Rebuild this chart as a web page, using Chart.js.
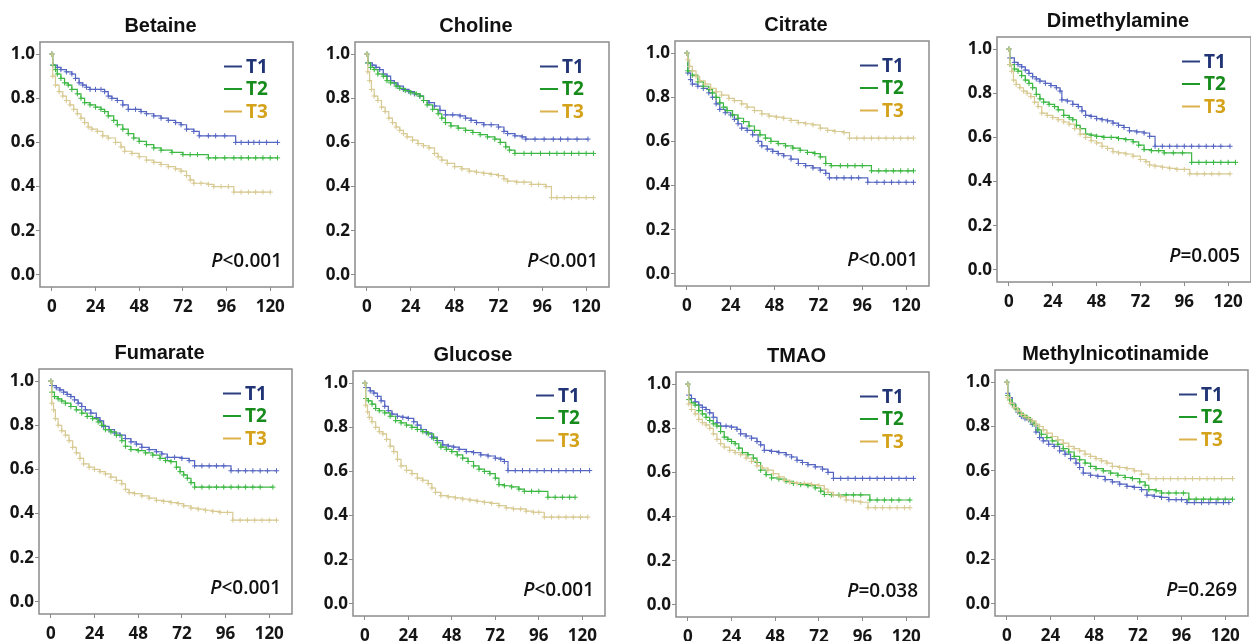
<!DOCTYPE html>
<html>
<head>
<meta charset="utf-8">
<script src="https://cdn.jsdelivr.net/npm/chart.js@4.4.1/dist/chart.umd.min.js"></script>
<style>
  body { margin: 0; background: #fff; width: 1251px; height: 641px; position: relative; overflow: hidden; }
  canvas { position: absolute; }
</style>
</head>
<body>
<script>
// months of follow-up and survival probability
const monthTicks = [0, 24, 48, 72, 96, 120]
const survivalTicks = [0, 0.2, 0.4, 0.6, 0.8, 1.0]
const groups = ['T1', 'T2', 'T3']
const metabolites = ['Betaine', 'Choline', 'Citrate', 'Dimethylamine', 'Fumarate', 'Glucose', 'TMAO', 'Methylnicotinamide']
const pValues = ['<0.001', '<0.001', '<0.001', '=0.005', '<0.001', '<0.001', '=0.038', '=0.269']

const betaineT1 = [[0,1],[0.5,0.95],[3,0.94],[5,0.93],[8,0.92],[11,0.91],[13,0.89],[15,0.87],[17,0.86],[19,0.85],[21,0.84],[24,0.84],[27,0.84],[29,0.83],[31,0.81],[33,0.80],[36,0.79],[39,0.77],[42,0.75],[46,0.75],[49,0.74],[52,0.73],[56,0.72],[60,0.71],[64,0.70],[68,0.69],[71,0.68],[74,0.66],[78,0.65],[81,0.63],[86,0.63],[90,0.63],[95,0.63],[101,0.60],[104,0.60],[108,0.60],[111,0.60],[114,0.60],[118,0.60],[124,0.60]]
const betaineT2 = [[0,1],[0.5,0.95],[2,0.93],[3,0.91],[5,0.89],[7,0.87],[9,0.86],[11,0.84],[14,0.82],[16,0.80],[18,0.78],[21,0.77],[24,0.76],[27,0.75],[29,0.74],[31,0.72],[34,0.70],[36,0.68],[39,0.66],[42,0.64],[45,0.62],[48,0.605],[52,0.59],[56,0.575],[60,0.565],[66,0.555],[72,0.545],[76,0.545],[80,0.545],[86,0.53],[90,0.53],[95,0.53],[100,0.53],[104,0.53],[108,0.53],[112,0.53],[116,0.53],[120,0.53],[124,0.53]]
const betaineT3 = [[0,1],[0.5,0.90],[2,0.86],[4,0.83],[6,0.81],[8,0.79],[10,0.77],[12,0.75],[14,0.73],[16,0.71],[18,0.69],[20,0.67],[22,0.66],[25,0.65],[28,0.63],[31,0.62],[35,0.60],[38,0.58],[40,0.56],[44,0.55],[48,0.535],[52,0.52],[56,0.51],[60,0.50],[64,0.49],[68,0.48],[71,0.47],[74,0.45],[76,0.43],[78,0.415],[82,0.415],[86,0.41],[89,0.40],[93,0.40],[97,0.40],[100,0.375],[104,0.375],[108,0.375],[112,0.375],[116,0.375],[120,0.375]]

const cholineT1 = [[0,1],[0.5,0.96],[3,0.95],[5,0.94],[7,0.93],[9,0.91],[11,0.90],[13,0.88],[15,0.87],[17,0.855],[20,0.84],[23,0.83],[26,0.82],[29,0.81],[31,0.79],[34,0.78],[37,0.765],[40,0.745],[43,0.725],[47,0.725],[51,0.72],[54,0.71],[57,0.70],[60,0.69],[64,0.68],[68,0.68],[72,0.67],[75,0.65],[77,0.64],[81,0.63],[85,0.625],[87,0.615],[92,0.615],[97,0.615],[102,0.615],[106,0.615],[110,0.615],[115,0.615],[121,0.615]]
const cholineT2 = [[0,1],[0.5,0.96],[2,0.94],[4,0.93],[6,0.91],[9,0.90],[11,0.88],[13,0.87],[16,0.855],[18,0.845],[21,0.835],[24,0.825],[27,0.82],[29,0.81],[31,0.79],[33,0.77],[36,0.75],[39,0.73],[41,0.71],[43,0.69],[46,0.675],[50,0.665],[54,0.655],[58,0.645],[62,0.635],[66,0.625],[70,0.615],[73,0.60],[76,0.58],[78,0.565],[81,0.55],[86,0.55],[90,0.55],[95,0.55],[100,0.55],[104,0.55],[108,0.55],[112,0.55],[116,0.55],[120,0.55],[124,0.55]]
const cholineT3 = [[0,1],[0.5,0.92],[1.5,0.88],[2.5,0.84],[4,0.81],[6,0.79],[8,0.76],[10,0.74],[12,0.71],[14,0.69],[16,0.67],[18,0.655],[20,0.64],[22,0.625],[25,0.61],[28,0.595],[31,0.585],[34,0.575],[37,0.55],[39,0.535],[41,0.52],[44,0.505],[48,0.49],[52,0.48],[56,0.47],[60,0.465],[64,0.46],[68,0.455],[72,0.45],[75,0.435],[77,0.425],[82,0.42],[86,0.42],[90,0.41],[94,0.41],[98,0.40],[101,0.35],[104,0.35],[108,0.35],[112,0.35],[116,0.35],[120,0.35],[124,0.35]]

const citrateT1 = [[0,1],[0.5,0.91],[2,0.88],[3,0.86],[6,0.85],[9,0.84],[12,0.82],[14,0.80],[16,0.77],[18,0.745],[21,0.73],[24,0.72],[26,0.70],[28,0.68],[30,0.66],[33,0.65],[36,0.63],[39,0.60],[41,0.58],[44,0.565],[47,0.555],[50,0.545],[53,0.535],[57,0.52],[61,0.50],[65,0.49],[69,0.48],[73,0.47],[76,0.455],[78,0.435],[82,0.435],[86,0.435],[90,0.435],[94,0.435],[99,0.415],[104,0.415],[108,0.415],[112,0.415],[116,0.415],[120,0.415],[124,0.415]]
const citrateT2 = [[0,1],[0.5,0.92],[3,0.90],[6,0.87],[9,0.85],[12,0.835],[14,0.82],[16,0.80],[18,0.775],[20,0.755],[22,0.74],[25,0.72],[28,0.705],[31,0.69],[34,0.67],[37,0.65],[40,0.63],[43,0.615],[46,0.60],[50,0.59],[54,0.58],[58,0.57],[62,0.56],[66,0.55],[70,0.545],[73,0.53],[76,0.50],[79,0.49],[84,0.49],[88,0.49],[92,0.49],[96,0.49],[101,0.467],[105,0.467],[109,0.467],[113,0.467],[117,0.467],[121,0.467],[124,0.467]]
const citrateT3 = [[0,1],[0.5,0.97],[1.5,0.94],[3,0.92],[5,0.895],[7,0.875],[10,0.86],[13,0.84],[16,0.825],[19,0.81],[23,0.795],[26,0.785],[30,0.77],[33,0.755],[37,0.74],[41,0.725],[45,0.715],[49,0.71],[53,0.705],[57,0.695],[61,0.685],[65,0.68],[69,0.675],[73,0.66],[77,0.65],[81,0.645],[86,0.64],[89,0.615],[93,0.615],[97,0.615],[101,0.615],[105,0.615],[109,0.615],[113,0.615],[117,0.615],[121,0.615],[124,0.615]]

const dimethylamineT1 = [[0,1],[0.5,0.96],[3,0.94],[5,0.93],[7,0.92],[9,0.905],[11,0.89],[13,0.875],[15,0.865],[17,0.855],[20,0.845],[23,0.835],[26,0.825],[28,0.81],[29,0.77],[32,0.765],[35,0.75],[38,0.74],[40,0.72],[42,0.70],[45,0.695],[48,0.685],[51,0.68],[54,0.675],[57,0.665],[60,0.655],[63,0.645],[66,0.63],[70,0.625],[74,0.62],[77,0.605],[80,0.56],[84,0.56],[88,0.56],[92,0.56],[96,0.56],[100,0.56],[104,0.56],[108,0.56],[112,0.56],[116,0.56],[121,0.56]]
const dimethylamineT2 = [[0,1],[0.5,0.93],[3,0.91],[5,0.90],[7,0.88],[9,0.86],[11,0.845],[13,0.825],[15,0.795],[17,0.775],[19,0.76],[22,0.75],[25,0.74],[27,0.725],[30,0.70],[33,0.69],[35,0.68],[37,0.655],[39,0.64],[42,0.615],[45,0.61],[48,0.605],[52,0.60],[56,0.60],[60,0.595],[64,0.59],[68,0.58],[71,0.565],[74,0.545],[78,0.54],[82,0.54],[85,0.53],[90,0.53],[95,0.53],[100,0.487],[104,0.487],[108,0.487],[112,0.487],[116,0.487],[120,0.487],[124,0.487]]
const dimethylamineT3 = [[0,1],[0.5,0.93],[1.5,0.90],[2.5,0.86],[4,0.84],[6,0.825],[8,0.81],[10,0.80],[12,0.785],[14,0.76],[16,0.74],[18,0.71],[21,0.70],[24,0.69],[27,0.68],[30,0.67],[33,0.66],[36,0.64],[39,0.615],[42,0.60],[45,0.585],[48,0.575],[51,0.56],[54,0.55],[57,0.535],[60,0.53],[64,0.525],[68,0.515],[72,0.50],[75,0.49],[77,0.475],[80,0.47],[84,0.465],[88,0.46],[92,0.455],[96,0.455],[99,0.435],[103,0.435],[107,0.435],[111,0.435],[115,0.435],[121,0.435]]

const fumarateT1 = [[0,1],[0.5,0.98],[3,0.97],[5,0.96],[7,0.95],[9,0.94],[11,0.93],[13,0.915],[15,0.90],[17,0.885],[19,0.87],[22,0.855],[25,0.835],[27,0.82],[29,0.795],[32,0.78],[35,0.765],[38,0.755],[41,0.74],[44,0.725],[47,0.715],[50,0.70],[54,0.69],[58,0.68],[61,0.67],[64,0.655],[68,0.655],[72,0.65],[76,0.64],[79,0.616],[83,0.616],[87,0.616],[91,0.616],[95,0.616],[99,0.594],[103,0.594],[107,0.594],[111,0.594],[115,0.594],[119,0.594],[124,0.594]]
const fumarateT2 = [[0,1],[0.5,0.95],[2,0.93],[4,0.92],[6,0.91],[8,0.90],[11,0.885],[14,0.87],[17,0.855],[20,0.84],[23,0.83],[26,0.815],[28,0.80],[30,0.78],[33,0.77],[36,0.755],[39,0.73],[41,0.705],[44,0.69],[48,0.685],[52,0.675],[56,0.665],[60,0.65],[63,0.64],[66,0.635],[69,0.61],[71,0.59],[73,0.575],[75,0.56],[77,0.54],[79,0.52],[83,0.52],[87,0.52],[91,0.52],[95,0.52],[99,0.52],[103,0.52],[107,0.52],[111,0.52],[115,0.52],[122,0.52]]
const fumarateT3 = [[0,1],[0.5,0.90],[1.5,0.87],[2.5,0.83],[4,0.80],[6,0.775],[8,0.755],[10,0.73],[12,0.70],[14,0.675],[16,0.65],[18,0.625],[21,0.61],[24,0.60],[27,0.59],[30,0.58],[33,0.565],[36,0.55],[39,0.535],[41,0.51],[43,0.495],[46,0.49],[50,0.48],[54,0.47],[58,0.46],[62,0.455],[66,0.45],[70,0.445],[73,0.435],[77,0.425],[81,0.42],[85,0.415],[89,0.41],[93,0.405],[97,0.405],[100,0.37],[104,0.37],[108,0.37],[112,0.37],[116,0.37],[120,0.37],[124,0.37]]

const glucoseT1 = [[0,1],[0.5,0.98],[3,0.965],[5,0.955],[7,0.94],[9,0.92],[11,0.895],[13,0.875],[15,0.86],[18,0.85],[21,0.845],[24,0.84],[27,0.825],[29,0.81],[31,0.79],[34,0.775],[37,0.755],[40,0.74],[43,0.72],[46,0.715],[49,0.71],[52,0.70],[56,0.69],[60,0.685],[64,0.675],[68,0.67],[72,0.66],[75,0.655],[77,0.645],[79,0.604],[83,0.604],[87,0.604],[91,0.604],[95,0.604],[99,0.604],[103,0.604],[107,0.604],[111,0.604],[115,0.604],[119,0.604],[124,0.604]]
const glucoseT2 = [[0,1],[0.5,0.93],[2,0.92],[4,0.905],[6,0.885],[8,0.875],[11,0.865],[14,0.85],[17,0.83],[20,0.82],[23,0.81],[26,0.80],[29,0.79],[32,0.78],[35,0.77],[38,0.75],[40,0.73],[42,0.71],[45,0.70],[48,0.69],[51,0.675],[54,0.66],[57,0.645],[60,0.625],[63,0.61],[66,0.60],[69,0.59],[72,0.57],[74,0.54],[77,0.535],[81,0.53],[85,0.52],[88,0.51],[92,0.51],[96,0.51],[101,0.483],[105,0.483],[109,0.483],[113,0.483],[116,0.483]]
const glucoseT3 = [[0,1],[0.5,0.90],[1.5,0.87],[2.5,0.845],[4,0.825],[6,0.80],[8,0.78],[10,0.77],[12,0.745],[14,0.715],[16,0.69],[18,0.655],[20,0.625],[23,0.605],[26,0.59],[29,0.57],[32,0.56],[35,0.545],[37,0.525],[39,0.505],[42,0.49],[46,0.485],[50,0.48],[54,0.475],[58,0.47],[62,0.465],[66,0.46],[70,0.455],[74,0.445],[78,0.435],[82,0.43],[86,0.43],[89,0.42],[93,0.415],[96,0.415],[99,0.393],[103,0.393],[107,0.393],[111,0.393],[115,0.393],[119,0.393],[123,0.393]]

const tmaoT1 = [[0,1],[0.5,0.95],[2,0.935],[4,0.92],[6,0.905],[8,0.895],[10,0.885],[12,0.87],[14,0.85],[16,0.825],[18,0.81],[21,0.81],[24,0.805],[27,0.795],[29,0.775],[32,0.765],[35,0.755],[38,0.74],[40,0.725],[42,0.70],[46,0.695],[50,0.69],[54,0.68],[57,0.67],[60,0.655],[63,0.645],[66,0.635],[70,0.625],[74,0.615],[77,0.60],[80,0.573],[84,0.573],[88,0.573],[92,0.573],[96,0.573],[100,0.573],[104,0.573],[108,0.573],[112,0.573],[116,0.573],[120,0.573],[124,0.573]]
const tmaoT2 = [[0,1],[0.5,0.93],[2,0.915],[4,0.905],[6,0.88],[8,0.865],[10,0.85],[12,0.835],[14,0.82],[16,0.81],[18,0.785],[20,0.76],[22,0.75],[24,0.74],[26,0.73],[28,0.71],[30,0.69],[33,0.68],[36,0.665],[38,0.645],[40,0.61],[43,0.59],[46,0.575],[50,0.57],[54,0.56],[58,0.55],[62,0.545],[66,0.54],[70,0.53],[73,0.515],[75,0.50],[79,0.498],[83,0.498],[87,0.498],[91,0.498],[95,0.498],[100,0.475],[104,0.475],[108,0.475],[112,0.475],[116,0.475],[122,0.475]]
const tmaoT3 = [[0,1],[0.5,0.91],[2,0.885],[4,0.865],[6,0.84],[8,0.825],[10,0.815],[12,0.80],[14,0.775],[16,0.75],[18,0.73],[20,0.715],[23,0.70],[26,0.69],[29,0.68],[32,0.665],[35,0.65],[38,0.63],[41,0.62],[44,0.61],[47,0.595],[50,0.58],[53,0.565],[56,0.555],[60,0.55],[64,0.55],[68,0.545],[72,0.54],[75,0.525],[77,0.51],[80,0.498],[84,0.49],[87,0.475],[91,0.47],[95,0.465],[99,0.44],[103,0.44],[107,0.44],[111,0.44],[115,0.44],[119,0.44],[122,0.44]]

const methylnicotinamideT1 = [[0,1],[0.5,0.95],[1.5,0.93],[3,0.905],[4.5,0.885],[6,0.865],[8,0.845],[10,0.835],[12,0.83],[14,0.81],[16,0.775],[18,0.75],[20,0.735],[23,0.72],[26,0.71],[29,0.69],[32,0.675],[35,0.655],[38,0.635],[40,0.615],[42,0.59],[46,0.58],[50,0.575],[54,0.56],[58,0.55],[62,0.54],[66,0.53],[70,0.525],[74,0.515],[77,0.49],[81,0.485],[85,0.48],[89,0.47],[93,0.47],[96,0.47],[99,0.457],[103,0.457],[107,0.457],[111,0.457],[115,0.457],[119,0.457],[122,0.457]]
const methylnicotinamideT2 = [[0,1],[0.5,0.94],[1.5,0.92],[3,0.90],[5,0.88],[7,0.86],[9,0.85],[11,0.84],[13,0.825],[15,0.81],[17,0.785],[19,0.765],[22,0.75],[25,0.735],[28,0.72],[31,0.70],[34,0.685],[37,0.665],[40,0.65],[43,0.635],[46,0.62],[49,0.61],[53,0.60],[57,0.59],[61,0.58],[65,0.57],[69,0.565],[73,0.55],[76,0.535],[78,0.515],[82,0.51],[85,0.50],[89,0.50],[93,0.50],[97,0.50],[100,0.472],[104,0.472],[108,0.472],[112,0.472],[116,0.472],[120,0.472],[124,0.472]]
const methylnicotinamideT3 = [[0,1],[0.5,0.93],[2,0.905],[4,0.885],[6,0.87],[8,0.855],[10,0.845],[12,0.835],[14,0.825],[16,0.81],[18,0.80],[20,0.785],[22,0.77],[25,0.755],[28,0.74],[31,0.725],[34,0.71],[37,0.70],[40,0.69],[43,0.675],[46,0.665],[49,0.655],[52,0.645],[55,0.635],[58,0.62],[62,0.615],[66,0.61],[70,0.60],[74,0.585],[78,0.565],[82,0.565],[86,0.565],[90,0.565],[94,0.565],[98,0.565],[102,0.565],[106,0.565],[110,0.565],[114,0.565],[118,0.565],[124,0.565]]

const curves = [
    [betaineT1, betaineT2, betaineT3],
    [cholineT1, cholineT2, cholineT3],
    [citrateT1, citrateT2, citrateT3],
    [dimethylamineT1, dimethylamineT2, dimethylamineT3],
    [fumarateT1, fumarateT2, fumarateT3],
    [glucoseT1, glucoseT2, glucoseT3],
    [tmaoT1, tmaoT2, tmaoT3],
    [methylnicotinamideT1, methylnicotinamideT2, methylnicotinamideT3]
]

// plot frame of each panel on the page: left, top, width, height
const frames = [
    [40, 42, 256, 245], [355, 42, 257, 245], [675, 41, 257, 245], [997, 37, 257, 245],
    [39, 369, 256, 245], [353, 371, 255, 245], [676, 372, 256, 245], [995, 370, 256, 246]
]
const lineColors = ['#5566c2', '#3cb843', '#d8ca93']
const legendLineColors = ['#2d3f80', '#1f9a28', '#dcb24c']
const legendTextColors = ['#213476', '#178c1c', '#d5a21c']

const Y_AXIS_W = 40, TITLE_H = 42, X_AXIS_H = 32

Chart.defaults.font.family = '"Open Sans", sans-serif'

const panelDecor = {
    id: 'panelDecor',
    afterDraw(chart, args, opts) {
        const {ctx, chartArea: a} = chart
        ctx.save()
        ctx.strokeStyle = '#8c8c8c'
        ctx.lineWidth = 1.5
        ctx.strokeRect(a.left, a.top, a.right - a.left, a.bottom - a.top)

        ctx.fillStyle = '#111'
        ctx.textAlign = 'center'
        ctx.textBaseline = 'middle'
        ctx.font = 'bold 20px "Liberation Sans", Arial, sans-serif'
        ctx.fillText(opts.title, (a.left + a.right) / 2 - 6, a.top - 16)

        // legend inside the plot, top right
        ctx.textAlign = 'left'
        ctx.font = 'bold 19px "Open Sans", sans-serif'
        groups.forEach((g, i) => {
            const y = a.top + 24.5 + i * 22.5
            ctx.strokeStyle = legendLineColors[i]
            ctx.lineWidth = 2
            ctx.beginPath()
            ctx.moveTo(a.right - 69, y)
            ctx.lineTo(a.right - 51, y)
            ctx.stroke()
            ctx.fillStyle = legendTextColors[i]
            ctx.fillText(g, a.right - 47, y + 1)
        })

        // log-rank p value, bottom right
        ctx.fillStyle = '#111'
        ctx.textAlign = 'right'
        ctx.textBaseline = 'alphabetic'
        ctx.font = '600 19px "Open Sans", sans-serif'
        const w = ctx.measureText(opts.p).width
        const px = a.right - 11, py = a.bottom - 20
        ctx.fillText(opts.p, px, py)
        ctx.font = 'italic 600 19px "Open Sans", sans-serif'
        ctx.fillText('P', px - w, py)
        ctx.restore()
    }
}

metabolites.forEach((name, k) => {
    const [fx, fy, fw, fh] = frames[k]
    const canvas = document.createElement('canvas')
    const W = Y_AXIS_W + fw + 2, H = TITLE_H + fh + X_AXIS_H
    canvas.width = W
    canvas.height = H
    canvas.style.width = W + 'px'
    canvas.style.height = H + 'px'
    canvas.style.left = (fx - Y_AXIS_W) + 'px'
    canvas.style.top = (fy - TITLE_H) + 'px'
    document.body.appendChild(canvas)

    new Chart(canvas, {
        type: 'line',
        data: {
            datasets: groups.map((g, i) => ({
                label: g,
                data: curves[k][i],
                stepped: true,
                borderColor: lineColors[i],
                borderWidth: 1.2,
                pointStyle: 'cross',
                pointRadius: 2.6,
                pointBorderWidth: 1,
                pointBorderColor: lineColors[i],
                order: 2 - i
            }))
        },
        options: {
            responsive: false,
            animation: false,
            events: [],
            layout: { padding: { left: 0, top: TITLE_H, right: 2, bottom: 0 } },
            scales: {
                x: {
                    type: 'linear',
                    min: -6.5,
                    max: 132.5,
                    afterBuildTicks: s => { s.ticks = monthTicks.map(v => ({ value: v })) },
                    afterFit: s => { s.height = X_AXIS_H },
                    grid: { drawOnChartArea: false, tickLength: 4, color: '#8c8c8c' },
                    border: { display: false },
                    ticks: { padding: 6, color: '#151515', font: { size: 17, weight: 'bold' }, maxRotation: 0 }
                },
                y: {
                    min: -0.055,
                    max: 1.055,
                    afterBuildTicks: s => { s.ticks = survivalTicks.map(v => ({ value: v })) },
                    afterFit: s => { s.width = Y_AXIS_W },
                    grid: { drawOnChartArea: false, tickLength: 4, color: '#8c8c8c' },
                    border: { display: false },
                    ticks: { padding: 1, color: '#151515', font: { size: 17, weight: 'bold' }, callback: v => v.toFixed(1) }
                }
            },
            plugins: {
                legend: { display: false },
                tooltip: { enabled: false },
                panelDecor: { title: name, p: pValues[k] }
            }
        },
        plugins: [panelDecor]
    })
})
</script>
</body>
</html>
